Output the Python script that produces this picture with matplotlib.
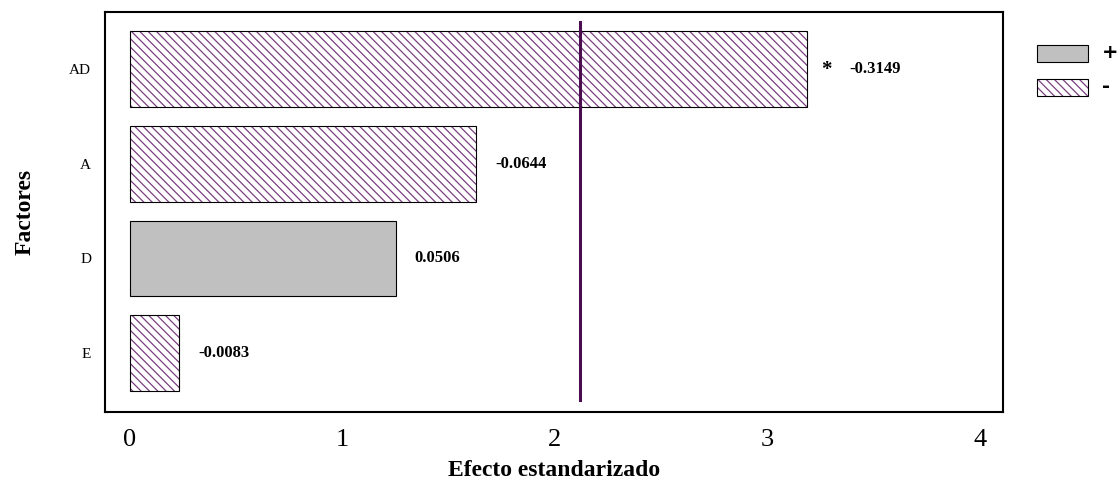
import numpy as np
from matplotlib import pyplot as plt
from matplotlib.patches import Rectangle

plt.rcParams['font.family'] = ['Liberation Serif', 'DejaVu Serif']
plt.rcParams['hatch.linewidth'] = 0.9

# Pareto de efectos estandarizados
factores = ["E", "D", "A", "AD"]
efecto = [0.23, 1.25, 1.63, 3.185]
coef = ["-0.0083", "0.0506", "-0.0644", "-0.3149"]
signo = ["-", "+", "-", "-"]
signif = [False, False, False, True]
limite = 2.12

morado = "#7a3f80"
gris = "#c0c0c0"
W, H = 1119, 483

fig = plt.figure(figsize=(W / 100, H / 100), dpi=100)
ax = fig.add_axes([105 / W, 71 / H, 898 / W, 400 / H])

pos = np.arange(len(factores))
for i in range(len(factores)):
    if signo[i] == "+":
        ax.barh(pos[i], efecto[i], height=0.8, color=gris, edgecolor="black", linewidth=0.8)
    else:
        ax.barh(pos[i], efecto[i], height=0.8, color="white", edgecolor=morado,
                hatch="\\\\\\\\", linewidth=0)
        ax.barh(pos[i], efecto[i], height=0.8, fill=False, edgecolor="black", linewidth=0.8)
    x0 = efecto[i] + 0.09
    if signif[i]:
        ax.text(efecto[i] + 0.07, pos[i] - 0.02, "*", fontsize=15, fontweight="bold", va="center")
        x0 = efecto[i] + 0.2
    ax.text(x0, pos[i], coef[i], fontsize=12, fontweight="bold", va="center")

ax.plot([limite, limite], [-0.49, 3.49], color="#4a0d4f", linewidth=2.2)

ax.set_xlim(-0.118, 4.11)
ax.set_ylim(-0.616, 3.595)
ax.set_xticks([0, 1, 2, 3, 4])
ax.set_yticks(pos)
ax.set_yticklabels(factores, fontsize=11)
ax.tick_params(axis="x", labelsize=19, length=0, pad=12)
ax.tick_params(axis="y", length=0, pad=10)
for s in ax.spines.values():
    s.set_linewidth(1.5)

ax.set_xlabel("Efecto estandarizado", fontsize=17, fontweight="bold", labelpad=7)
ax.set_ylabel("Factores", fontsize=17, fontweight="bold", labelpad=24)

# leyenda de signos
for k, (fc, ht, lab) in enumerate([(gris, None, "+"), ("white", "\\\\\\\\", "-")]):
    y0 = 1 - (62 + 34 * k) / H
    if ht:
        fig.add_artist(Rectangle((1037 / W, y0), 51 / W, 17 / H, facecolor="white",
                                 edgecolor=morado, hatch=ht, linewidth=0, transform=fig.transFigure))
        fig.add_artist(Rectangle((1037 / W, y0), 51 / W, 17 / H, fill=False,
                                 edgecolor="black", linewidth=0.8, transform=fig.transFigure))
    else:
        fig.add_artist(Rectangle((1037 / W, y0), 51 / W, 17 / H, facecolor=fc,
                                 edgecolor="black", linewidth=0.8, transform=fig.transFigure))
    fig.text(1102 / W, y0 + 9 / H, lab, family="DejaVu Sans", fontweight="bold",
             fontsize=14, va="center", ha="left")

fig.savefig("out.png", dpi=100)
